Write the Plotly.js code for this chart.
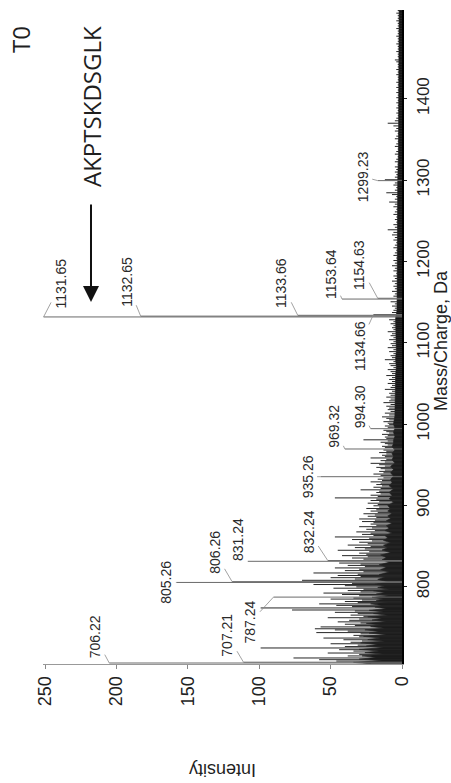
<!DOCTYPE html>
<html><head><meta charset="utf-8">
<script src="https://cdn.plot.ly/plotly-3.0.1.min.js"></script>
<style>html,body{margin:0;padding:0;background:#fff}#chart{width:451px;height:783px}</style>
</head><body><div id="chart"></div>
<script>
// ---- data ----
const peakMass = [
706.22, 707.21, 708.6, 710.3, 712.4, 714.9, 716.8, 718.5, 720.9, 722.6,
724.7, 726.4, 728.2, 729.9, 731.7, 733.3, 734.8, 736.9, 738.5, 740.2,
742.1, 743.6, 745.4, 746.9, 748.3, 750.6, 752.4, 753.9, 755.5, 756.8,
758.7, 760.3, 761.9, 763.6, 765.1, 766.9, 768.5, 770.2, 771.4, 773.9,
775.6, 777.1, 778.9, 780.5, 781.8, 783.6, 784.8, 786.1, 787.24, 788.9,
790.4, 792.2, 793.7, 795.3, 796.9, 798.2, 799.8, 801.3, 802.7, 804.1,
805.26, 806.26, 807.9, 809.5, 811.1, 812.6, 813.8, 815.3, 816.9, 818.4,
819.8, 821.5, 823.1, 824.7, 826.2, 827.8, 829.1, 831.24, 832.24, 833.9,
835.3, 836.8, 838.2, 839.9, 841.3, 843.0, 844.8, 846.5, 848.1, 849.6,
851.2, 852.9, 854.7, 856.3, 858.0, 859.6, 861.2, 862.9, 864.3, 865.8,
867.4, 869.0, 870.6, 872.3, 873.8, 875.5, 877.0, 878.7, 880.1, 881.8,
883.3, 885.0, 886.6, 888.2, 889.7, 891.4, 893.0, 894.6, 896.2, 897.9,
899.5, 901.1, 902.7, 904.4, 906.0, 907.6, 909.2, 910.9, 912.5, 914.1,
915.8, 917.4, 919.1, 920.7, 922.3, 924.0, 925.6, 927.3, 928.9, 930.5,
932.2, 933.8, 935.26, 936.9, 938.5, 940.1, 941.8, 943.4, 945.1, 946.7,
948.3, 950.0, 951.7, 953.3, 955.0, 956.6, 958.3, 959.9, 961.6, 963.2,
964.9, 966.5, 968.0, 969.32, 971.0, 972.6, 974.3, 975.9, 977.6, 979.2,
980.6, 982.4, 984.0, 985.7, 987.3, 989.0, 990.6, 992.3, 994.30, 996.0,
997.6, 999.3, 1001.0, 1002.9, 1005.1, 1007.0, 1008.8, 1011.2, 1013.4, 1015.5,
1017.7, 1019.6, 1021.9, 1024.0, 1026.3, 1028.5, 1030.7, 1033.1, 1035.4, 1037.8,
1040.3, 1042.6, 1045.0, 1047.5, 1049.9, 1052.3, 1054.8, 1057.1, 1059.6, 1062.0,
1064.4, 1066.9, 1069.3, 1071.8, 1074.2, 1076.7, 1079.1, 1081.6, 1084.0, 1086.5,
1089.0, 1091.4, 1093.9, 1096.3, 1098.8, 1101.2, 1103.7, 1106.1, 1108.6, 1111.0,
1113.5, 1116.0, 1118.4, 1120.9, 1123.3, 1125.8, 1128.2, 1131.65, 1132.65, 1133.66,
1134.66, 1137.1, 1139.8, 1142.4, 1145.0, 1147.7, 1150.3, 1153.64, 1154.63, 1157.2,
1160.0, 1163.1, 1166.3, 1169.4, 1172.6, 1175.7, 1178.9, 1182.0, 1185.2, 1188.3,
1191.5, 1194.6, 1197.8, 1201.0, 1204.1, 1207.3, 1210.4, 1213.6, 1216.7, 1219.9,
1223.0, 1226.2, 1229.3, 1232.5, 1235.6, 1238.8, 1241.9, 1245.1, 1248.2, 1251.4,
1254.5, 1257.7, 1260.8, 1264.0, 1267.1, 1270.3, 1272.9, 1276.4, 1279.6, 1282.1,
1284.3, 1287.5, 1290.6, 1293.8, 1296.4, 1299.23, 1300.3, 1303.5, 1306.6, 1309.8,
1312.9, 1316.1, 1319.2, 1322.4, 1325.5, 1328.7, 1331.8, 1335.0, 1338.1, 1341.3,
1344.4, 1347.6, 1350.7, 1353.9, 1357.0, 1360.2, 1363.3, 1366.5, 1369.8, 1372.8,
1376.0, 1379.1, 1382.3, 1385.4, 1388.6, 1391.7, 1394.9, 1398.0, 1401.2, 1404.3,
1407.5, 1410.6, 1413.8, 1416.9, 1420.1, 1423.2, 1426.4, 1429.5, 1432.7, 1435.8,
1439.0, 1442.1, 1445.3, 1447.6, 1451.6, 1454.7, 1457.9, 1461.0, 1464.2, 1467.3,
1470.5, 1473.6, 1476.8, 1479.9, 1483.1, 1486.2, 1489.4, 1492.5, 1495.7, 1498.8,
1502.0, 1505.1, 1508.3
];
const peakIntensity = [
205, 111, 46, 58, 76, 38, 30, 52, 34, 44,
99, 40, 31, 50, 36, 28, 41, 55, 30, 34,
29, 60, 38, 47, 61, 57, 33, 40, 29, 45,
37, 30, 52, 27, 36, 31, 47, 33, 77, 99,
35, 46, 58, 31, 40, 28, 50, 34, 90, 30,
42, 55, 29, 38, 27, 48, 32, 40, 62, 35,
158, 119, 70, 33, 50, 29, 45, 31, 62, 27,
40, 30, 47, 26, 38, 29, 44, 108, 52, 27,
35, 24, 42, 25, 30, 23, 45, 26, 33, 22,
38, 24, 30, 21, 35, 23, 47, 20, 28, 22,
32, 19, 25, 21, 30, 18, 22, 20, 28, 19,
30, 18, 24, 19, 27, 17, 22, 18, 25, 16,
20, 17, 24, 16, 22, 18, 47, 17, 22, 15,
18, 16, 29, 15, 20, 14, 18, 15, 22, 14,
17, 13, 57, 15, 20, 13, 16, 12, 15, 18,
12, 16, 22, 12, 15, 11, 22, 12, 14, 11,
16, 11, 13, 40, 12, 14, 10, 12, 15, 10,
27, 11, 12, 10, 14, 9, 11, 13, 22, 10,
12, 9, 10, 13, 9, 11, 14, 9, 12, 8,
10, 9, 11, 8, 13, 9, 8, 11, 8, 9,
7, 12, 8, 7, 10, 7, 9, 7, 11, 7,
8, 10, 6, 8, 9, 6, 12, 7, 8, 6,
9, 6, 10, 7, 8, 6, 9, 6, 8, 7,
10, 6, 7, 6, 8, 6, 9, 251, 183, 73,
20, 7, 6, 5, 7, 5, 8, 42, 17, 6,
5, 7, 5, 6, 5, 7, 5, 6, 4, 6,
5, 7, 5, 6, 4, 6, 5, 4, 6, 5,
4, 6, 5, 7, 6, 10, 5, 6, 4, 5,
4, 6, 5, 4, 6, 5, 9, 5, 4, 7,
11, 5, 4, 6, 5, 17, 12, 5, 4, 5,
4, 5, 3, 5, 4, 3, 5, 4, 3, 5,
4, 3, 5, 4, 3, 5, 4, 6, 10, 5,
4, 3, 4, 3, 4, 3, 4, 3, 4, 3,
4, 3, 4, 3, 4, 3, 3, 4, 3, 4,
3, 3, 4, 5, 3, 3, 4, 3, 3, 4,
3, 3, 4, 3, 3, 4, 3, 3, 4, 3,
3, 4, 3
];
// dense low-level noise band (upper edge of the solid black baseline region)
const noiseMass = [
705.2, 707, 709, 711, 713, 715, 717, 719, 721, 723,
725, 727, 729, 731, 733, 735, 737, 739, 741, 743,
745, 747, 749, 751, 753, 755, 757, 759, 761, 763,
765, 767, 769, 771, 773, 775, 777, 779, 781, 783,
785, 787, 789, 791, 793, 795, 797, 799, 801, 803,
806, 809, 812, 815, 818, 821, 824, 827, 830, 833,
836, 839, 842, 845, 848, 851, 854, 857, 860, 863,
866, 869, 872, 875, 878, 881, 884, 887, 890, 893,
896, 900, 904, 908, 912, 916, 920, 924, 928, 932,
936, 940, 944, 948, 952, 956, 960, 964, 968, 972,
976, 980, 985, 990, 995, 1000, 1010, 1020, 1030, 1040,
1050, 1060, 1070, 1080, 1090, 1100, 1110, 1120, 1130, 1140,
1160, 1180, 1200, 1220, 1240, 1260, 1280, 1300, 1330, 1360,
1390, 1420, 1450, 1480, 1509
];
const noiseLevel = [
22, 34, 14, 30, 18, 28, 12, 26, 16, 30,
13, 25, 17, 29, 12, 24, 15, 27, 11, 23,
16, 26, 12, 22, 15, 25, 11, 21, 14, 24,
10, 20, 13, 23, 11, 19, 14, 22, 10, 18,
13, 21, 9, 18, 12, 20, 9, 17, 12, 19,
10, 17, 12, 16, 9, 15, 11, 16, 9, 14,
11, 15, 8, 14, 10, 13, 8, 13, 10, 12,
7, 12, 9, 11, 7, 11, 8, 10, 7, 10,
8, 10, 6, 9, 7, 9, 6, 9, 7, 8,
6, 8, 6, 8, 5, 7, 6, 7, 5, 7,
6, 6, 5, 6, 5, 6, 5, 5, 5, 4.5,
4.5, 4.5, 4, 4.5, 4, 4, 4, 4, 4.5, 3.5,
3.5, 3.5, 3, 3.5, 3, 3, 3, 3, 2.5, 2.5,
2.5, 2.5, 2, 2.5, 2
];
// labelled peaks
const labelMass = [706.22, 707.21, 787.24, 805.26, 806.26, 831.24, 832.24, 935.26, 969.32, 994.30,
                   1131.65, 1132.65, 1133.66, 1134.66, 1153.64, 1154.63, 1299.23];
const labelIntensity = [205, 111, 90, 158, 119, 108, 52, 57, 40, 22,
                        251, 183, 73, 20, 42, 17, 17];
const intensityTicks = [0, 50, 100, 150, 200, 250];
const massTicks = [800, 900, 1000, 1100, 1200, 1300, 1400];

// ---- label placement (pixel offsets of the label from its peak point) ----
const labelOffsets = [[-14,-26],[-16,-27],[-23,25],[-10,0],[-17,-29],[-9,-22],[-19,-29],[-13,0],[-11,-23],[-11,-22],
                      [17,-33],[-14,-34],[-16,-32],[-14,31],[-11,-25],[-18,-33],[-15,-4]];

// ---- build traces: labelled peaks drawn lighter (thin grey lines), the rest dark ----
const labelledSet = new Set(labelMass);
const minorX = [], minorY = [], majorX = [], majorY = [];
for (let i = 0; i < peakMass.length; i++) {
  const tx = labelledSet.has(peakMass[i]) ? majorX : minorX;
  const ty = labelledSet.has(peakMass[i]) ? majorY : minorY;
  tx.push(0, peakIntensity[i], null);
  ty.push(peakMass[i], peakMass[i], null);
}
const noiseTrace = {
  x: noiseLevel, y: noiseMass, type: 'scatter', mode: 'lines',
  fill: 'tozerox', fillcolor: '#141414', line: {color: '#141414', width: 0.6},
  hoverinfo: 'skip', showlegend: false
};
const minorTrace = {
  x: minorX, y: minorY, type: 'scatter', mode: 'lines',
  line: {color: '#262626', width: 1}, hoverinfo: 'skip', showlegend: false
};
const majorTrace = {
  x: majorX, y: majorY, type: 'scatter', mode: 'lines',
  line: {color: '#6a6a6a', width: 1}, hoverinfo: 'skip', showlegend: false
};

const FONT = 'Liberation Sans, Arial, sans-serif';
const annotations = labelMass.map((m, i) => ({
  x: labelIntensity[i], y: m, xref: 'x', yref: 'y',
  text: m.toFixed(2), textangle: -90,
  font: {family: FONT, size: 14, color: '#2a2a2a'},
  showarrow: true, arrowhead: 0, arrowwidth: 0.8, arrowcolor: '#8a8a8a',
  ax: labelOffsets[i][0], ay: labelOffsets[i][1], standoff: 0
}));
const textNote = (x, y, text, angle, size, family) => ({
  xref: 'paper', yref: 'paper', x: x, y: y, text: text, textangle: angle,
  xanchor: 'center', yanchor: 'middle', showarrow: false,
  font: {family: family, size: size, color: '#1f1f1f'}
});
annotations.push(
  textNote(0.4986, -0.162, 'Intensity', 180, 18, FONT),
  textNote(1.1086, 0.4954, 'Mass/Charge, Da', -90, 18, FONT),
  textNote(0.1337, 0.8532, 'AKPTSKDSGLK', -90, 24, 'Open Sans, sans-serif'),
  textNote(-0.0613, 0.9557, 'T0', -90, 24, 'Open Sans, sans-serif'),
  {xref: 'paper', yref: 'paper', x: 0.1337, y: 0.5535, text: '', showarrow: true,
   ax: 0, ay: -99, arrowhead: 2, arrowsize: 1.6, arrowwidth: 2, arrowcolor: '#111', standoff: 0}
);

const layout = {
  width: 451, height: 783,
  margin: {l: 43, r: 49, t: 10, b: 119},
  paper_bgcolor: '#fff', plot_bgcolor: '#fff',
  showlegend: false,
  xaxis: {
    range: [251.4, 0], tickvals: intensityTicks, tickangle: -90,
    ticks: 'outside', ticklen: 4, tickcolor: '#888', tickwidth: 1,
    showline: true, linecolor: '#999', linewidth: 1,
    showgrid: false, zeroline: false,
    tickfont: {family: FONT, size: 18, color: '#222'}
  },
  yaxis: {
    range: [705, 1509], side: 'right', tickvals: massTicks, tickangle: -90,
    ticks: 'outside', ticklen: 3, tickcolor: '#222',
    showline: true, linecolor: '#000', linewidth: 2,
    showgrid: false, zeroline: false, ticklabelstandoff: 2,
    tickfont: {family: FONT, size: 17, color: '#222'}
  },
  annotations: annotations
};

Plotly.newPlot('chart', [noiseTrace, minorTrace, majorTrace], layout, {staticPlot: true, displayModeBar: false});
</script></body></html>
